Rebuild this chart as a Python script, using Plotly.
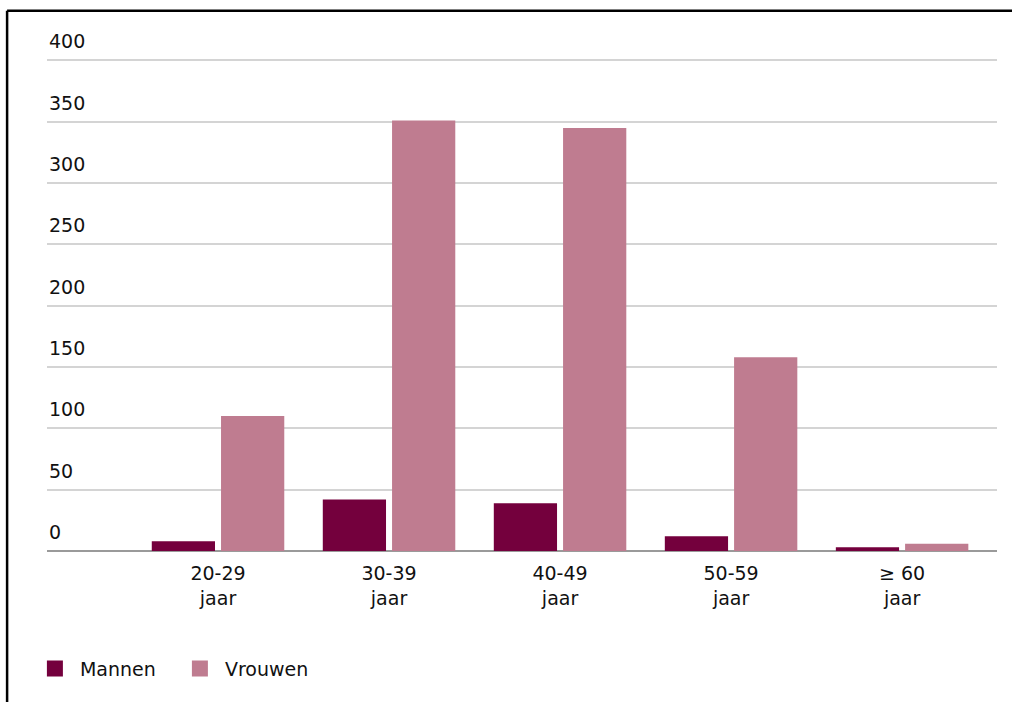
import plotly.graph_objects as go

# Age groups and counts per gender
categories = ["20-29<br>jaar", "30-39<br>jaar", "40-49<br>jaar", "50-59<br>jaar", "≥ 60<br>jaar"]
mannen = [8, 42, 39, 12, 3]
vrouwen = [110, 351, 345, 158, 6]
y_ticks = [0, 50, 100, 150, 200, 250, 300, 350, 400]

FONT = "'DejaVu Sans', sans-serif"
TEXT = "#111111"
C_MAN = "#74003d"
C_VROUW = "#bf7c90"

x_idx = list(range(len(categories)))

fig = go.Figure()
fig.add_trace(go.Bar(x=x_idx, y=mannen, name="Mannen", marker_color=C_MAN,
                     marker_line_width=0, showlegend=False))
fig.add_trace(go.Bar(x=x_idx, y=vrouwen, name="Vrouwen", marker_color=C_VROUW,
                     marker_line_width=0, showlegend=False))

# Legend entries with larger square swatches
for name, col in [("Mannen", C_MAN), ("Vrouwen", C_VROUW)]:
    fig.add_trace(go.Scatter(x=[None], y=[None], mode="markers", name=name,
                             marker=dict(symbol="square", size=16, color=col,
                                         line_width=0)))

# Value labels on the left, sitting just above each gridline
annotations = [
    dict(x=0, xref="paper", xanchor="left", y=v, yref="y", yanchor="bottom",
         yshift=6, text=str(v), showarrow=False,
         font=dict(family=FONT, size=19, color=TEXT))
    for v in y_ticks
]

# Frame lines (top and left edges)
shapes = [
    dict(type="line", xref="paper", yref="paper", x0=-0.042, x1=1.02, y0=1.096, y1=1.096,
         line=dict(color="black", width=2.5)),
    dict(type="line", xref="paper", yref="paper", x0=-0.042, x1=-0.042, y0=1.096, y1=-0.32,
         line=dict(color="black", width=2.5)),
]

fig.update_layout(
    width=1012, height=702,
    margin=dict(l=47, r=15, t=58, b=151),
    paper_bgcolor="white", plot_bgcolor="white",
    barmode="group", bargap=0.19, bargroupgap=0.087,
    font=dict(family=FONT, size=19, color=TEXT),
    showlegend=True,
    legend=dict(orientation="h", x=-0.018, xanchor="left", y=-0.2, yanchor="top",
                font=dict(family=FONT, size=19, color=TEXT),
                itemwidth=40, entrywidth=90, tracegroupgap=0),
    annotations=annotations,
    shapes=shapes,
    xaxis=dict(range=[-1.0, 4.555], tickmode="array", tickvals=x_idx, ticktext=categories,
               showgrid=False, zeroline=False, showline=False, ticks="",
               ticklabelstandoff=9,
               tickfont=dict(family=FONT, size=19, color=TEXT)),
    yaxis=dict(range=[0, 402], tickvals=y_ticks, showticklabels=False,
               showgrid=True, gridcolor="#d4d4d4", gridwidth=2,
               zeroline=True, zerolinecolor="#9a9a9a", zerolinewidth=2,
               showline=False, fixedrange=True),
)

fig.write_html("out.html")
